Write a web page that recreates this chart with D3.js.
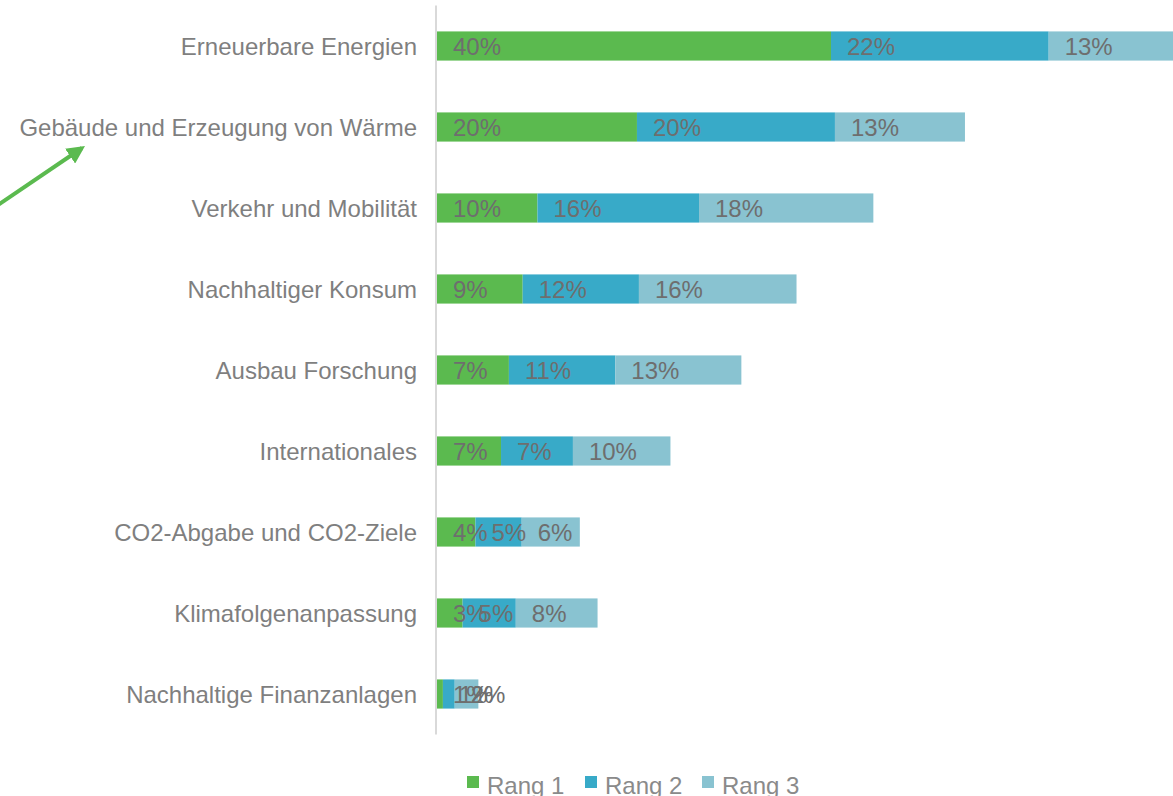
<!DOCTYPE html>
<html>
<head>
<meta charset="utf-8">
<script src="https://cdn.jsdelivr.net/npm/d3@7"></script>
<style>
  html, body { margin: 0; padding: 0; background: #ffffff; overflow: hidden; }
  svg { display: block; font-family: "Liberation Sans", Arial, sans-serif; }
</style>
</head>
<body>
<svg id="chart" width="1173" height="796"></svg>
<script>
const categories = [
  "Erneuerbare Energien",
  "Gebäude und Erzeugung von Wärme",
  "Verkehr und Mobilität",
  "Nachhaltiger Konsum",
  "Ausbau Forschung",
  "Internationales",
  "CO2-Abgabe und CO2-Ziele",
  "Klimafolgenanpassung",
  "Nachhaltige Finanzanlagen"
];
const rang1 = [40.0, 20.3, 10.2, 8.7, 7.3, 6.5, 3.9, 2.6, 0.6];
const rang2 = [22.1, 20.1, 16.4, 11.8, 10.8, 7.3, 4.7, 5.4, 1.2];
const rang3 = [13.2, 13.2, 17.7, 16.0, 12.8, 9.9, 5.9, 8.3, 2.4];
const seriesNames = ["Rang 1", "Rang 2", "Rang 3"];
const seriesColors = ["#5bba4f", "#38aac8", "#89c3d1"];

const svg = d3.select("#chart");
const rows = categories.map((c, i) => ({ cat: c, "Rang 1": rang1[i], "Rang 2": rang2[i], "Rang 3": rang3[i] }));
const stack = d3.stack().keys(seriesNames)(rows);

const x = d3.scaleLinear().domain([0, 100]).range([437, 437 + 985]);
const y = d3.scaleBand().domain(categories).range([5.5, 734.5]).paddingInner(0.64).paddingOuter(0.32);
const color = d3.scaleOrdinal().domain(seriesNames).range(seriesColors);

// bars
const groups = svg.append("g").selectAll("g").data(stack).join("g").attr("fill", d => color(d.key));
groups.selectAll("rect").data(d => d.map(p => ({ p, key: d.key })))
  .join("rect")
  .attr("x", d => x(d.p[0]))
  .attr("y", d => y(d.p.data.cat))
  .attr("width", d => x(d.p[1]) - x(d.p[0]))
  .attr("height", y.bandwidth());

// axis line
svg.append("line")
  .attr("x1", 436).attr("x2", 436)
  .attr("y1", y.range()[0]).attr("y2", y.range()[1])
  .attr("stroke", "#d9d9d9").attr("stroke-width", 2);

// category labels
svg.append("g").selectAll("text").data(categories).join("text")
  .attr("x", 417)
  .attr("y", d => y(d) + y.bandwidth() / 2)
  .attr("text-anchor", "end")
  .attr("dominant-baseline", "central")
  .attr("font-size", 24)
  .attr("fill", "#7f7f7f")
  .text(d => d);

// data labels
stack.forEach(s => {
  svg.append("g").selectAll("text").data(s).join("text")
    .attr("x", d => x(d[0]) + 16)
    .attr("y", d => y(d.data.cat) + y.bandwidth() / 2)
    .attr("dominant-baseline", "central")
    .attr("font-size", 24)
    .attr("fill", "#6e6e6e")
    .text(d => Math.round(d[1] - d[0]) + "%");
});

// legend
const legendX = [467, 585, 702];
const lg = svg.append("g").selectAll("g").data(seriesNames).join("g")
  .attr("transform", (d, i) => `translate(${legendX[i]},0)`);
lg.append("rect").attr("x", 0).attr("y", 776).attr("width", 12).attr("height", 12).attr("fill", d => color(d));
lg.append("text").attr("x", 20).attr("y", 794).attr("font-size", 24).attr("fill", "#8a8a8a").text(d => d);

// annotation arrow
const defs = svg.append("defs");
defs.append("marker").attr("id", "ah").attr("viewBox", "0 0 10 10")
  .attr("refX", 8).attr("refY", 5).attr("markerWidth", 4.5).attr("markerHeight", 4.5)
  .attr("orient", "auto").attr("markerUnits", "strokeWidth")
  .append("path").attr("d", "M0,0 L10,5 L0,10 Z").attr("fill", "#5bba4f");
svg.append("line")
  .attr("x1", -8).attr("y1", 209).attr("x2", 82).attr("y2", 148)
  .attr("stroke", "#5bba4f").attr("stroke-width", 4)
  .attr("marker-end", "url(#ah)");
</script>
</body>
</html>
